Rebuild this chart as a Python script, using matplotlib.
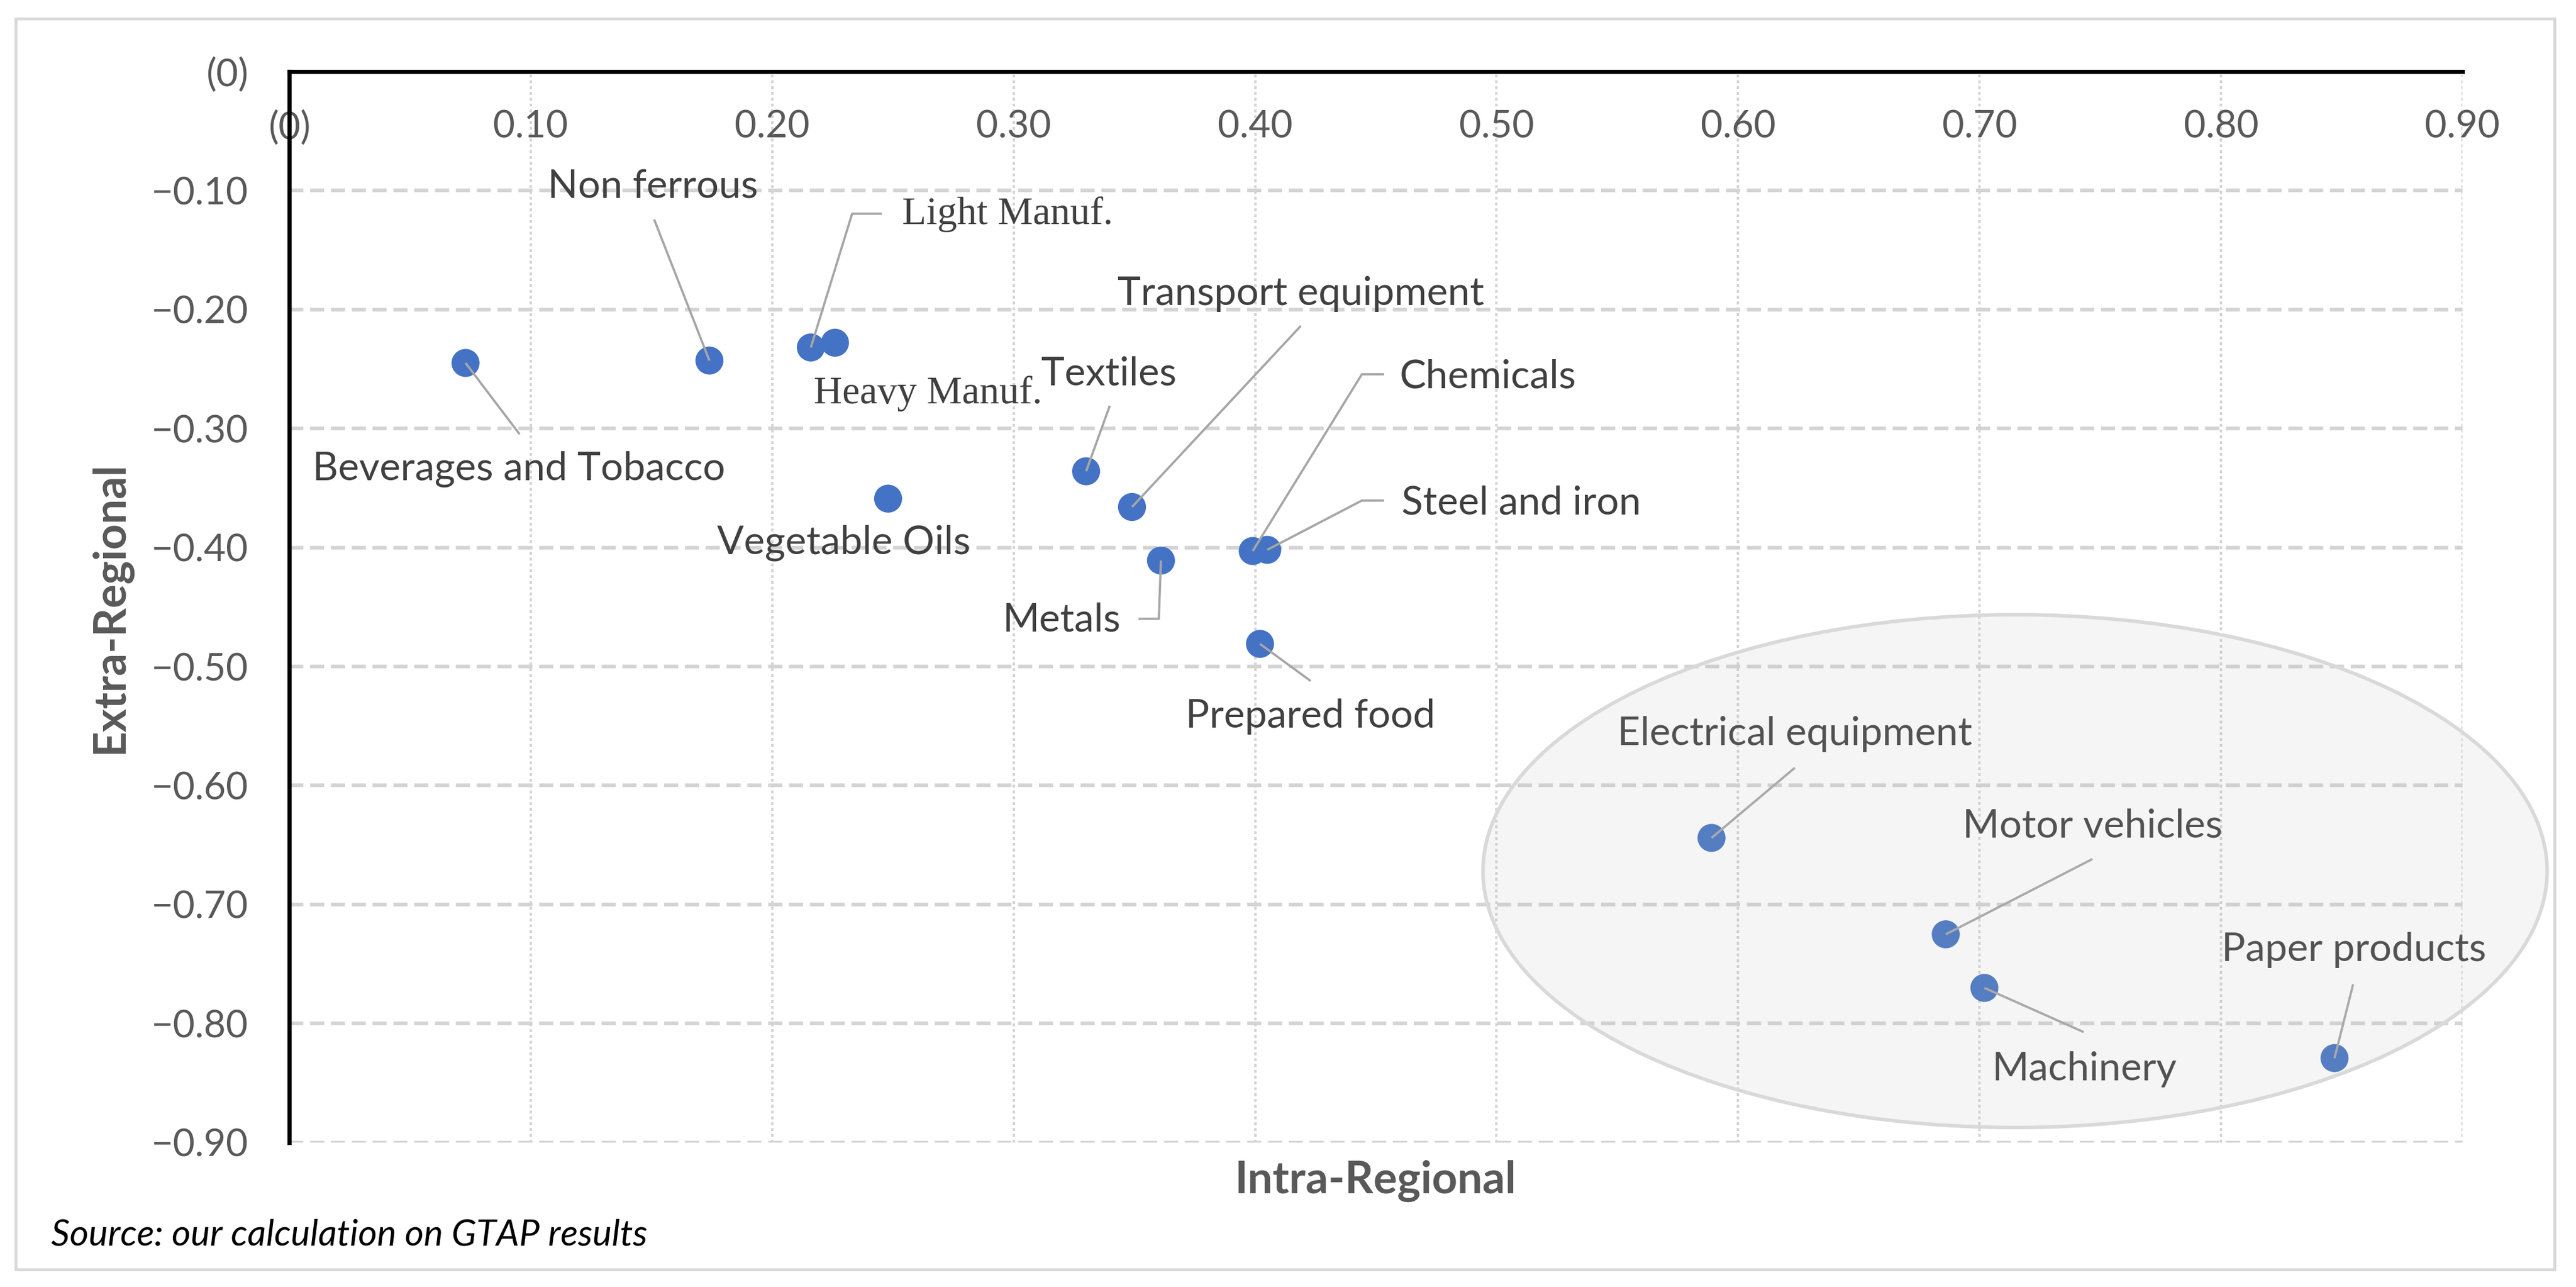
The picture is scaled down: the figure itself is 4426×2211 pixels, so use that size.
import matplotlib
matplotlib.use("Agg")
import matplotlib.pyplot as plt
from matplotlib.patches import Ellipse, Rectangle

plt.rcParams['font.family'] = ['Lato', 'DejaVu Sans']

# sectors: intra-regional (x) vs extra-regional (y)
sectors = ["Beverages and Tobacco", "Non ferrous", "Light Manuf.", "Heavy Manuf.",
           "Vegetable Oils", "Textiles", "Transport equipment", "Metals",
           "Chemicals", "Steel and iron", "Prepared food", "Electrical equipment",
           "Motor vehicles", "Machinery", "Paper products"]
intra = [0.073, 0.174, 0.216, 0.226, 0.248, 0.330, 0.349, 0.361,
         0.399, 0.405, 0.402, 0.589, 0.686, 0.702, 0.847]
extra = [-0.245, -0.243, -0.232, -0.228, -0.359, -0.336, -0.366, -0.411,
         -0.403, -0.402, -0.481, -0.644, -0.725, -0.770, -0.829]

x_ticks = [0, 0.1, 0.2, 0.3, 0.4, 0.5, 0.6, 0.7, 0.8, 0.9]
x_ticklabels = ["(0)", "0.10", "0.20", "0.30", "0.40", "0.50", "0.60", "0.70", "0.80", "0.90"]
y_ticks = [0, -0.1, -0.2, -0.3, -0.4, -0.5, -0.6, -0.7, -0.8, -0.9]
y_ticklabels = ["(0)", "\u22120.10", "\u22120.20", "\u22120.30", "\u22120.40", "\u22120.50",
                "\u22120.60", "\u22120.70", "\u22120.80", "\u22120.90"]

# label placement (text centre, leader path from label side)
label_pos = {
    "Beverages and Tobacco": ((0.0952, -0.3342), [(0.0954, -0.3049)]),
    "Non ferrous": ((0.1506, -0.0971), [(0.1511, -0.1244)]),
    "Light Manuf.": ((0.2974, -0.1200), [(0.2454, -0.1196), (0.2331, -0.1196)]),
    "Heavy Manuf.": ((0.2646, -0.2707), []),
    "Vegetable Oils": ((0.2297, -0.3963), []),
    "Textiles": ((0.3394, -0.2545), [(0.3398, -0.2809)]),
    "Transport equipment": ((0.4189, -0.1870), [(0.4189, -0.2139)]),
    "Metals": ((0.3198, -0.4609), [(0.3517, -0.4599), (0.3601, -0.4599)]),
    "Chemicals": ((0.4965, -0.2565), [(0.4534, -0.2545), (0.4442, -0.2545)]),
    "Steel and iron": ((0.5102, -0.3626), [(0.4534, -0.3606), (0.4442, -0.3606)]),
    "Prepared food": ((0.4228, -0.5420), [(0.4230, -0.5122)]),
    "Electrical equipment": ((0.6235, -0.5567), [(0.6235, -0.5851)]),
    "Motor vehicles": ((0.7469, -0.6340), [(0.7467, -0.6618)]),
    "Machinery": ((0.7435, -0.8384), [(0.7431, -0.8071)]),
    "Paper products": ((0.8549, -0.7381), [(0.8547, -0.7670)]),
}
serif_labels = ["Light Manuf.", "Heavy Manuf."]

fig = plt.figure(figsize=(22.13, 11.055), dpi=200)
ax = fig.add_axes([0.11229, 0.11217, 0.84365, 0.83242])

# outer frame
fig.patches.append(Rectangle((0.0061, 0.0136), 0.9855, 0.9719, transform=fig.transFigure,
                             fill=False, edgecolor="#d9d9d9", linewidth=1.8))

ax.set_xlim(0, 0.9)
ax.set_ylim(-0.9, 0)

ax.scatter(intra, extra, s=300, color="#4472C4", edgecolors="none", zorder=3)

for name, x, y in zip(sectors, intra, extra):
    (tx, ty), leader = label_pos[name]
    if leader:
        xs = [p[0] for p in leader] + [x]
        ys = [p[1] for p in leader] + [y]
        ax.plot(xs, ys, color="#a6a6a6", linewidth=1.4, zorder=4, solid_capstyle="butt")
    if name in serif_labels:
        ax.text(tx, ty, name, ha="center", va="center", fontsize=24.5,
                family=["Liberation Serif", "DejaVu Serif"], color="#404040", zorder=5)
    else:
        ax.text(tx, ty, name, ha="center", va="center", fontsize=24.5,
                color="#404040", zorder=5)

# highlight ellipse drawn on top, translucent
ax.add_patch(Ellipse((0.7147, -0.6719), 0.4407, 0.4308, facecolor=(0.737, 0.737, 0.737, 0.15),
                     edgecolor="#d9d9d9", linewidth=2.2, zorder=6, clip_on=False))

# grid
ax.set_xticks(x_ticks)
ax.set_yticks(y_ticks)
ax.set_xticklabels(x_ticklabels)
ax.set_yticklabels(y_ticklabels)
ax.grid(axis="y", color="#d4d4d4", linestyle=(0, (3.8, 1.8)), linewidth=2.3)
ax.grid(axis="x", color="#d4d4d4", linestyle=(0, (1.2, 1.2)), linewidth=1.5)
ax.set_axisbelow(True)

for side in ["right", "bottom"]:
    ax.spines[side].set_visible(False)
for side in ["left", "top"]:
    ax.spines[side].set_linewidth(2.6)
    ax.spines[side].set_color("black")

ax.tick_params(axis="x", top=True, labeltop=True, bottom=False, labelbottom=False,
               length=0, pad=-34.5, labelsize=23.5, labelcolor="#595959")
for lab in ax.get_xticklabels():
    lab.set_va("center")
ax.tick_params(axis="y", length=0, pad=25.5, labelsize=23.5, labelcolor="#595959")

fig.text(2364 / 4426, 1 - 2029 / 2211, "Intra-Regional", ha="center", va="center",
         fontsize=27.5, fontweight="bold", color="#595959")
fig.text(190 / 4426, 1 - 1043 / 2211, "Extra-Regional", ha="center", va="center",
         rotation=90, fontsize=27.5, fontweight="bold", color="#595959")
fig.text(88 / 4426, 1 - 2122 / 2211, "Source: our calculation on GTAP results",
         ha="left", va="center", fontsize=22.5, style="italic", color="black")

fig.savefig("out.png", dpi=200)
